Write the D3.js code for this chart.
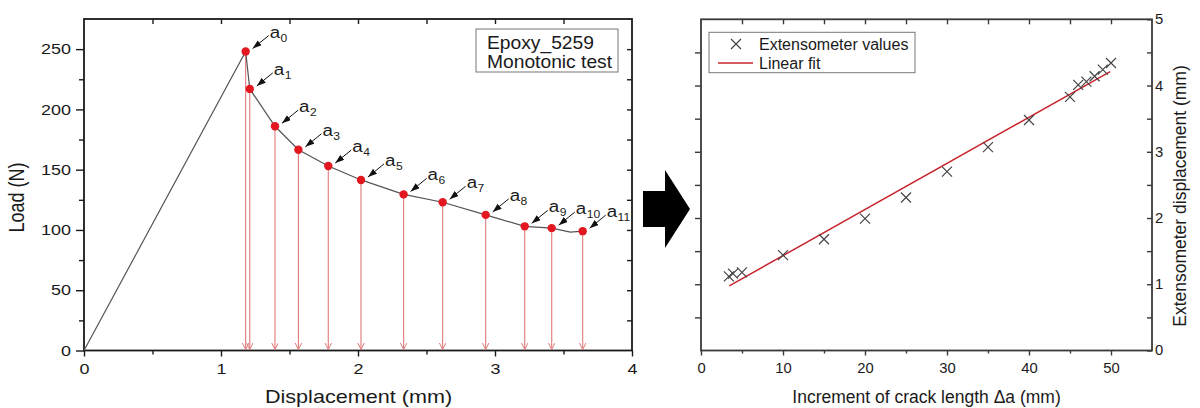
<!DOCTYPE html>
<html><head><meta charset="utf-8">
<script src="https://cdn.jsdelivr.net/npm/d3@7"></script>
<style>
body{margin:0;background:#fff}
svg{display:block}
text{font-family:"Liberation Sans",Arial,Helvetica,sans-serif;fill:#1a1a1a}
</style>
</head><body>
<svg id="c" width="1200" height="408"></svg>
<script>
// ---------- data ----------
const dispTicks=[0,1,2,3,4];
const dispMinorTicks=[0.5,1.5,2.5,3.5];
const loadTicks=[0,50,100,150,200,250];
const loadMinorTicks=[25,75,125,175,225];
const loadRightTicks=[25,50,75,100,125,150,175,200,225,250];
const crackLabels=["0","1","2","3","4","5","6","7","8","9","10","11"];
const crackDisp=[1.18,1.21,1.394,1.565,1.783,2.022,2.333,2.618,2.932,3.217,3.414,3.64];
const crackLoad=[248,217,186,166.5,153,141.5,129.5,123,112.5,103,101.5,99];
const curveDisp=[0,1.18,1.21,1.394,1.565,1.783,2.022,2.333,2.618,2.932,3.217,3.414,3.55,3.64];
const curveLoad=[0,248,217,186,166.5,153,141.5,129.5,123,112.5,103,101.5,98.2,99];
const boxText1=["Epoxy_5259","Monotonic test"];

const deltaA=[3.4,3.9,5,10,15,20,25,30,35,40,45,46,47,48,49,50];
const extDisp=[1.12,1.16,1.18,1.44,1.68,1.99,2.31,2.70,3.07,3.48,3.83,4.01,4.06,4.14,4.24,4.34];
const fitDeltaA=[3.45,49.9];
const fitDisp=[0.976,4.21];
const deltaTicks=[0,10,20,30,40,50];
const deltaMinorTicks=[5,15,25,35,45];
const deltaTopTicks=[5,10,15,20,25,30,35,40,45,50];
const extTicks=[0,1,2,3,4,5];
const extMinorTicks=[0.5,1.5,2.5,3.5,4.5];
const extLeftTicks=[0.5,1,1.5,2,2.5,3,3.5,4,4.5];
const legend2=["Extensometer values","Linear fit"];

// ---------- setup ----------
const svg=d3.select("#c");
const FONT='"Liberation Sans",Arial,Helvetica,sans-serif';
const X1=d3.scaleLinear().domain([0,4]).range([84,632]);
const Y1=d3.scaleLinear().domain([0,275]).range([350.5,19]);
const X2=d3.scaleLinear().domain([0,55]).range([701,1152]);
const Y2=d3.scaleLinear().domain([0,5]).range([350.5,19.3]);

const defs=svg.append("defs");
defs.append("marker").attr("id","blk").attr("markerUnits","userSpaceOnUse")
  .attr("markerWidth",10).attr("markerHeight",8).attr("refX",9).attr("refY",3.2)
  .attr("orient","auto").append("path").attr("d","M0,0L9,3.2L0,6.4Z").attr("fill","#111");
defs.append("marker").attr("id","red").attr("markerUnits","userSpaceOnUse")
  .attr("markerWidth",10).attr("markerHeight",10).attr("refX",7).attr("refY",3.5)
  .attr("orient","auto").append("path").attr("d","M0,0L7,3.5L0,7")
  .attr("fill","none").attr("stroke","#e07a7a").attr("stroke-width",1);

function drawAxis(gen,tx,ty,o){
  const g=svg.append("g").attr("transform",`translate(${tx},${ty})`).call(gen);
  g.attr("font-size",null).attr("font-family",null);
  g.select(".domain").remove();
  g.selectAll("line").attr("stroke",o.color).attr("stroke-width",o.w||1.4);
  g.selectAll("text").attr("font-size",o.fs||14).attr("fill","#222").attr("font-family",FONT);
  if(o.sx){
    g.selectAll("text").each(function(){
      const t=d3.select(this);const x=+t.attr("x")||0;
      t.attr("x",x/o.sx).attr("transform",`scale(${o.sx},1)`);
    });
  }
  return g;
}
function stext(x,y,txt,size,sx,anchor,rot){
  return svg.append("text")
    .attr("transform",`translate(${x},${y}) scale(${sx},1)`+(rot?` rotate(${rot})`:""))
    .attr("font-size",size).attr("text-anchor",anchor||"start").text(txt);
}
const fmtInt=d3.format("d");

// ---------- left chart ----------
const c1="#1a1a1a";
drawAxis(d3.axisBottom(X1).tickValues(dispTicks).tickSize(6).tickPadding(7).tickFormat(fmtInt),0,350.5,{color:c1,fs:14.5,sx:1.24});
drawAxis(d3.axisBottom(X1).tickValues(dispMinorTicks).tickSize(4).tickFormat(""),0,350.5,{color:c1});
drawAxis(d3.axisLeft(Y1).tickValues(loadTicks).tickSize(8).tickPadding(5).tickFormat(fmtInt),84,0,{color:c1,fs:14.5,sx:1.24});
drawAxis(d3.axisLeft(Y1).tickValues(loadMinorTicks).tickSize(5).tickFormat(""),84,0,{color:c1});
drawAxis(d3.axisTop(X1).tickValues(dispMinorTicks.concat(dispTicks.slice(1,4))).tickSizeInner(-5).tickSizeOuter(0).tickFormat(""),0,19,{color:c1});
drawAxis(d3.axisRight(Y1).tickValues(loadRightTicks).tickSizeInner(-5).tickSizeOuter(0).tickFormat(""),632,0,{color:c1});
svg.append("rect").attr("x",84).attr("y",19).attr("width",548).attr("height",331.5)
  .attr("fill","none").attr("stroke",c1).attr("stroke-width",1.8);

// red vertical arrows
svg.append("g").selectAll("line").data(crackDisp).join("line")
  .attr("x1",d=>X1(d)).attr("x2",d=>X1(d))
  .attr("y1",(d,i)=>Y1(crackLoad[i])).attr("y2",Y1(0)-1)
  .attr("stroke","#e07a7a").attr("stroke-width",1.1).attr("marker-end","url(#red)");

// load curve
const curveData=curveDisp.map((d,i)=>[d,curveLoad[i]]);
svg.append("path").datum(curveData)
  .attr("d",d3.line().x(d=>X1(d[0])).y(d=>Y1(d[1])))
  .attr("fill","none").attr("stroke","#555").attr("stroke-width",1.2);

// points
svg.append("g").selectAll("circle").data(crackDisp).join("circle")
  .attr("cx",d=>X1(d)).attr("cy",(d,i)=>Y1(crackLoad[i])).attr("r",4.2).attr("fill","#e3171f");

// annotations
crackDisp.forEach((d,i)=>{
  const px=X1(d),py=Y1(crackLoad[i]);
  svg.append("line").attr("x1",px+23).attr("y1",py-16).attr("x2",px+7).attr("y2",py-3)
    .attr("stroke","#111").attr("stroke-width",1).attr("marker-end","url(#blk)");
  const t=svg.append("text").attr("transform",`translate(${px+24},${py-14}) scale(1.1,1)`)
    .attr("font-size",17);
  t.append("tspan").text("a");
  t.append("tspan").attr("font-size",11).attr("dy",4).attr("dx",0.5).text(crackLabels[i]);
});

// text box
svg.append("rect").attr("x",476).attr("y",29).attr("width",142).attr("height",43)
  .attr("fill","#fff").attr("stroke","#777").attr("stroke-width",1);
stext(487,49.3,boxText1[0],17.5,1.1);
stext(487,68.3,boxText1[1],17.5,1.1);

// axis titles
stext(358.5,403,"Displacement (mm)",18,1.2,"middle");
stext(24,197.5,"Load (N)",18,1.2,"middle",-90);

// ---------- big arrow ----------
const arrowPts=[[643,191],[665,191],[665,170],[690,209],[665,248],[665,227],[643,227]];
svg.append("path").attr("d","M"+arrowPts.map(p=>p.join(",")).join("L")+"Z").attr("fill","#000");

// ---------- right chart ----------
const c2="#3a3a3a";
drawAxis(d3.axisBottom(X2).tickValues(deltaTicks).tickSize(5).tickPadding(8).tickFormat(fmtInt),0,350.5,{color:c2,fs:14,sx:1.06});
drawAxis(d3.axisBottom(X2).tickValues(deltaMinorTicks).tickSize(3).tickFormat(""),0,350.5,{color:c2});
drawAxis(d3.axisTop(X2).tickValues(deltaTopTicks).tickSizeInner(-5).tickSizeOuter(0).tickFormat(""),0,19.3,{color:c2});
drawAxis(d3.axisLeft(Y2).tickValues(extLeftTicks).tickSize(6).tickFormat(""),701,0,{color:c2});
drawAxis(d3.axisRight(Y2).tickValues(extTicks).tickSizeInner(-5).tickSizeOuter(0).tickPadding(3).tickFormat(fmtInt),1152,0,{color:c2,fs:14,sx:1.06});
drawAxis(d3.axisRight(Y2).tickValues(extMinorTicks).tickSizeInner(-5).tickSizeOuter(0).tickFormat(""),1152,0,{color:c2});
svg.append("rect").attr("x",701).attr("y",19.3).attr("width",451).attr("height",331.2)
  .attr("fill","none").attr("stroke",c2).attr("stroke-width",1.8);

// fit line
svg.append("path").datum(fitDeltaA.map((d,i)=>[d,fitDisp[i]]))
  .attr("d",d3.line().x(d=>X2(d[0])).y(d=>Y2(d[1])))
  .attr("fill","none").attr("stroke","#c8262e").attr("stroke-width",1.5);

// crosses
const cross="M-5,-5L5,5M-5,5L5,-5";
svg.append("g").selectAll("path").data(deltaA).join("path")
  .attr("transform",(d,i)=>`translate(${X2(d)},${Y2(extDisp[i])})`)
  .attr("d",cross).attr("fill","none").attr("stroke","#444").attr("stroke-width",1.2);

// legend
svg.append("rect").attr("x",709).attr("y",32.3).attr("width",206).attr("height",40.4)
  .attr("fill","#fff").attr("stroke","#777").attr("stroke-width",1);
svg.append("path").attr("transform","translate(736,44)").attr("d",cross)
  .attr("fill","none").attr("stroke","#444").attr("stroke-width",1.2);
svg.append("line").attr("x1",718).attr("x2",753).attr("y1",63).attr("y2",63)
  .attr("stroke","#c8262e").attr("stroke-width",1.5);
stext(759,49.5,legend2[0],16,1);
stext(759,68.5,legend2[1],16,1);

// axis titles
stext(926.5,403,"Increment of crack length \u0394a (mm)",17.5,1,"middle");
stext(1186,196,"Extensometer displacement (mm)",17.5,1.05,"middle",-90);
</script>
</body></html>
